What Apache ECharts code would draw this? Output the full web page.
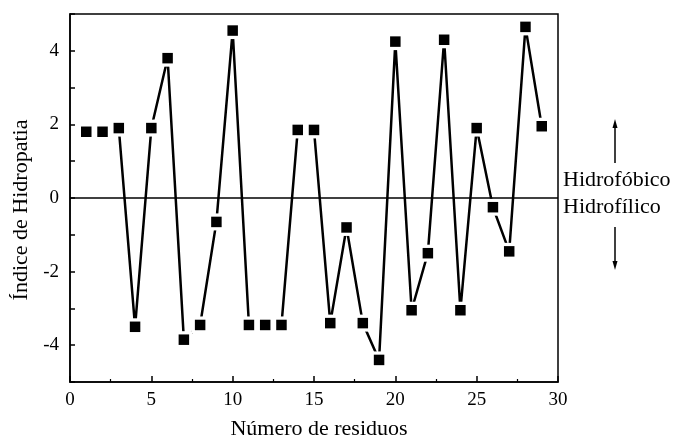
<!DOCTYPE html>
<html>
<head>
<meta charset="utf-8">
<script src="https://cdn.jsdelivr.net/npm/echarts@6/dist/echarts.min.js"></script>
<style>
  html, body { margin: 0; padding: 0; background: #fff; }
  #chart { width: 676px; height: 445px; }
</style>
</head>
<body>
<div id="chart"></div>
<script>
// Hydropathy index per residue
const residues = [1, 2, 3, 4, 5, 6, 7, 8, 9, 10, 11, 12, 13, 14, 15, 16, 17, 18, 19, 20, 21, 22, 23, 24, 25, 26, 27, 28, 29];
const hydropathy = [1.8, 1.8, 1.9, -3.5, 1.9, 3.8, -3.85, -3.45, -0.65, 4.55, -3.45, -3.45, -3.45, 1.85, 1.85, -3.4, -0.8, -3.4, -4.4, 4.25, -3.05, -1.5, 4.3, -3.05, 1.9, -0.25, -1.45, 4.65, 1.95];
const xTicks = [0, 5, 10, 15, 20, 25, 30];
const yTicks = [-4, -2, 0, 2, 4];

const points = residues.map((r, i) => [r, hydropathy[i]]);
const serif = '"Liberation Serif", "DejaVu Serif", serif';

const chart = echarts.init(document.getElementById('chart'));

const gridLeft = 70, gridRight = 118, gridTop = 14, gridBottom = 62;

chart.setOption({
  animation: false,
  backgroundColor: '#fff',
  grid: {
    left: gridLeft, right: gridRight, top: gridTop, bottom: gridBottom,
    show: true, borderColor: '#000', borderWidth: 1.5
  },
  xAxis: {
    type: 'value',
    min: xTicks[0], max: xTicks[xTicks.length - 1], interval: 5,
    name: 'Número de residuos',
    nameLocation: 'middle', nameGap: 36,
    nameTextStyle: { fontFamily: serif, fontSize: 22, color: '#000', padding: [0, 0, 0, 10] },
    axisLine: { show: true, onZero: false, lineStyle: { color: '#000', width: 1.5 } },
    axisTick: { show: true, inside: true, length: 6, lineStyle: { color: '#000', width: 1.5 } },
    minorTick: { show: true, splitNumber: 2, length: 3, lineStyle: { color: '#000', width: 1.2 } },
    axisLabel: { fontFamily: serif, fontSize: 19, color: '#000', margin: 9 },
    splitLine: { show: false }
  },
  yAxis: {
    type: 'value',
    min: -5, max: 5, interval: 1,
    name: 'Índice de Hidropatia',
    nameLocation: 'middle', nameGap: 31, nameRotate: 90,
    nameTextStyle: { fontFamily: serif, fontSize: 22, color: '#000', padding: [0, 24, 0, 0] },
    axisLine: { show: true, onZero: false, lineStyle: { color: '#000', width: 1.5 } },
    axisTick: { show: true, inside: true, length: 5, lineStyle: { color: '#000', width: 1.5 } },
    axisLabel: {
      fontFamily: serif, fontSize: 19, color: '#000', margin: 11,
      formatter: v => (yTicks.indexOf(v) >= 0 ? String(v) : '')
    },
    splitLine: { show: false }
  },
  series: [
    {
      // connecting line; white squares leave a gap around each marker
      type: 'line',
      data: points,
      symbol: 'rect',
      symbolSize: 17,
      showAllSymbol: true,
      lineStyle: { color: '#000', width: 2.5 },
      itemStyle: { color: '#fff', borderWidth: 0, opacity: 1 },
      markLine: {
        silent: true,
        symbol: 'none',
        label: { show: false },
        lineStyle: { color: '#000', width: 1.5, type: 'solid' },
        data: [{ yAxis: 0 }]
      },
      z: 2
    },
    {
      type: 'scatter',
      data: points,
      symbol: 'rect',
      symbolSize: 10.5,
      itemStyle: { color: '#000', opacity: 1 },
      z: 3
    }
  ],
  graphic: [
    { type: 'text', style: { x: 563, y: 180, text: 'Hidrofóbico', font: '22px ' + serif, fill: '#000', verticalAlign: 'middle' } },
    { type: 'text', style: { x: 563, y: 207, text: 'Hidrofílico', font: '22px ' + serif, fill: '#000', verticalAlign: 'middle' } },
    { type: 'line', shape: { x1: 615, y1: 163, x2: 615, y2: 126 }, style: { stroke: '#000', lineWidth: 1.5 } },
    { type: 'polygon', shape: { points: [[615, 119], [612.5, 128], [617.5, 128]] }, style: { fill: '#000' } },
    { type: 'line', shape: { x1: 615, y1: 227, x2: 615, y2: 263 }, style: { stroke: '#000', lineWidth: 1.5 } },
    { type: 'polygon', shape: { points: [[615, 270], [612.5, 261], [617.5, 261]] }, style: { fill: '#000' } }
  ]
});
</script>
</body>
</html>
